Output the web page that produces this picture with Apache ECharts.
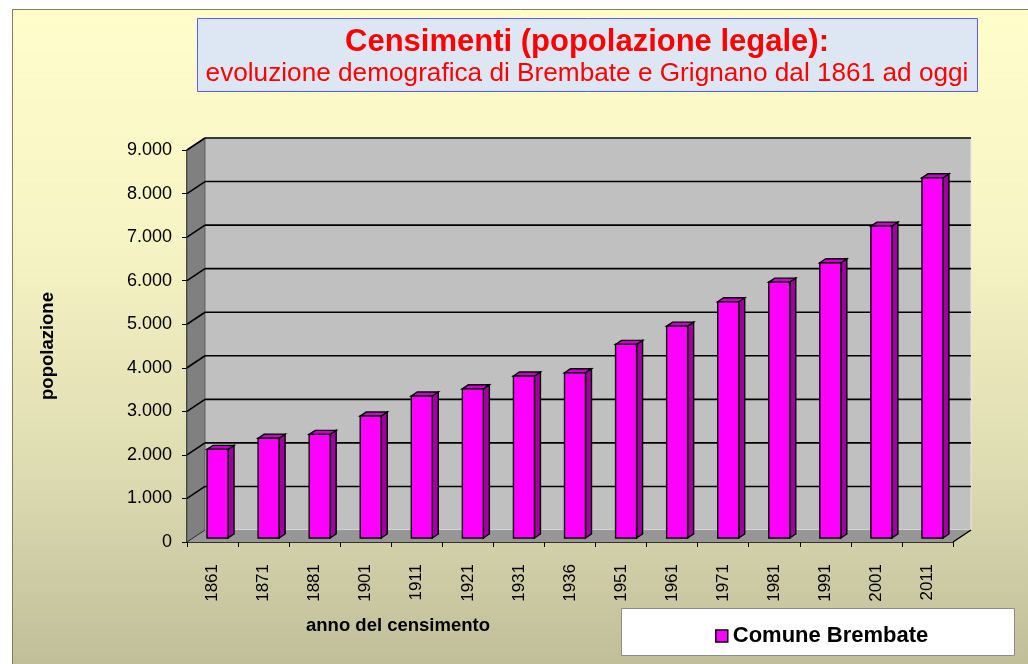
<!DOCTYPE html>
<html>
<head>
<meta charset="utf-8">
<script src="https://cdn.jsdelivr.net/npm/echarts@6/dist/echarts.min.js"></script>
<style>
html,body{margin:0;padding:0;background:#fff;}
#chart{width:1028px;height:664px;}
</style>
</head>
<body>
<div id="chart"></div>
<script>
// ---- data ----
const years = ['1861','1871','1881','1901','1911','1921','1931','1936','1951','1961','1971','1981','1991','2001','2011'];
const population = [2035, 2290, 2380, 2800, 3260, 3425, 3720, 3795, 4445, 4865, 5425, 5875, 6320, 7160, 8270];
const yTicks = [0, 1000, 2000, 3000, 4000, 5000, 6000, 7000, 8000, 9000];
const yTickLabels = ['0','1.000','2.000','3.000','4.000','5.000','6.000','7.000','8.000','9.000'];
const seriesName = 'Comune Brembate';
const titleMain = 'Censimenti (popolazione legale):';
const titleSub = 'evoluzione demografica di Brembate e Grignano dal 1861 ad oggi';
const xAxisTitle = 'anno del censimento';
const yAxisTitle = 'popolazione';

// ---- styling constants ----
const FONT = "'Liberation Sans', Arial, sans-serif";
const DX = 18, DY = -12;           // wall depth
const BOX = 5, BOY = -4;           // bar front offset (depth position)
const BDX = 6, BDY = -4;           // bar depth
const BAR_W = 21;

const chart = echarts.init(document.getElementById('chart'));

function wallsRender(params, api) {
  const cs = params.coordSys;
  const x = cs.x, y = cs.y, w = cs.width, h = cs.height;
  const children = [];
  children.push({type:'rect', shape:{x:x+DX, y:y+DY, width:w, height:h},
    style:{fill:'#c0c0c0', stroke:'#e8e8e8', lineWidth:1}});
  children.push({type:'polygon', shape:{points:[[x,y],[x+DX,y+DY],[x+DX,y+h+DY],[x,y+h]]},
    style:{fill:'#808080', stroke:'#555', lineWidth:1}});
  children.push({type:'polygon', shape:{points:[[x,y+h],[x+DX,y+h+DY],[x+w+DX,y+h+DY],[x+w,y+h]]},
    style:{fill:'#969696', stroke:null}});
  children.push({type:'line', shape:{x1:x+w, y1:y+h, x2:x+w+DX, y2:y+h+DY},
    style:{stroke:'#000', lineWidth:1.5}});
  children.push({type:'line', shape:{x1:x, y1:y+h, x2:x+DX, y2:y+h+DY},
    style:{stroke:'#333', lineWidth:1}});
  for (let i = 1; i < yTicks.length; i++) {
    const yy = api.coord([0, yTicks[i]])[1];
    children.push({type:'line', shape:{x1:x+DX, y1:yy+DY, x2:x+w+DX, y2:yy+DY},
      style:{stroke:'#000', lineWidth:1.6}});
    children.push({type:'line', shape:{x1:x, y1:yy, x2:x+DX, y2:yy+DY},
      style:{stroke:'#000', lineWidth:1.6}});
  }
  return {type:'group', children};
}

function barRender(params, api) {
  const idx = api.value(0);
  const p0 = api.coord([idx, 0]);
  const p1 = api.coord([idx, api.value(1)]);
  const xl = p0[0] + BOX - BAR_W / 2, xr = xl + BAR_W;
  const yb = p0[1] + BOY, yt = p1[1] + BOY;
  const lw = 1.4;
  return {type:'group', children:[
    {type:'polygon', shape:{points:[[xr,yt],[xr+BDX,yt+BDY],[xr+BDX,yb+BDY],[xr,yb]]},
      style:{fill:'#a000a0', stroke:'#000', lineWidth:lw}},
    {type:'polygon', shape:{points:[[xl,yt],[xr,yt],[xr+BDX,yt+BDY],[xl+BDX,yt+BDY]]},
      style:{fill:'#cc00cc', stroke:'#000', lineWidth:lw}},
    {type:'rect', shape:{x:xl, y:yt, width:BAR_W, height:yb-yt},
      style:{fill:'#ff00ff', stroke:'#000', lineWidth:lw}}
  ]};
}

const option = {
  animation: false,
  backgroundColor: '#ffffff',
  grid: {left:187, right:75, top:150, bottom:122, containLabel:false},
  xAxis: {
    type:'category', data: years,
    axisLine:{show:true, lineStyle:{color:'#000', width:1.5}},
    axisTick:{show:true, length:5, lineStyle:{color:'#000', width:1}},
    axisLabel:{rotate:90, margin:22, color:'#000', fontSize:17, fontFamily:FONT},
    splitLine:{show:false}
  },
  yAxis: {
    type:'value', min:0, max:9000, interval:1000,
    name: yAxisTitle, nameLocation:'middle', nameGap:130, nameRotate:90,
    nameTextStyle:{color:'#000', fontSize:18.5, fontWeight:'bold', fontFamily:FONT},
    axisLine:{show:true, lineStyle:{color:'#000', width:1.5}},
    axisTick:{show:true, length:5, lineStyle:{color:'#000', width:1}},
    axisLabel:{margin:15, color:'#000', fontSize:18, fontFamily:FONT,
      formatter: v => { const k = yTicks.indexOf(v); return k >= 0 ? yTickLabels[k] : ''; }},
    splitLine:{show:false}
  },
  legend: {
    data:[seriesName], left:710, top:620, itemWidth:12, itemHeight:12, itemGap:5,
    icon:'rect',
    itemStyle:{color:'#ff00ff', borderColor:'#000', borderWidth:1.5},
    textStyle:{color:'#000', fontSize:22, fontWeight:'bold', fontFamily:FONT}
  },
  graphic: [
    {type:'rect', z:-100, silent:true, shape:{x:12.5, y:9.5, width:1030, height:670},
      style:{fill:new echarts.graphic.LinearGradient(0,0,0,1,[
        {offset:0, color:'#fffdca'},{offset:0.35, color:'#f6f4c4'},{offset:0.7, color:'#dcdab0'},{offset:1, color:'#bdbc97'}]),
        stroke:'#7f7f60', lineWidth:1}},
    {type:'rect', z:-90, silent:true, shape:{x:197.5, y:18.5, width:780, height:73},
      style:{fill:'#dde7f3', stroke:'#5b5bff', lineWidth:1}},
    {type:'text', z:10, silent:true, style:{text:titleMain, x:587, y:42, align:'center', verticalAlign:'middle',
      fill:'#ff0000', font:'bold 31px ' + FONT}},
    {type:'text', z:10, silent:true, style:{text:titleSub, x:587, y:74, align:'center', verticalAlign:'middle',
      fill:'#ff0000', font:'26.2px ' + FONT}},
    {type:'text', z:10, silent:true, style:{text:xAxisTitle, x:398, y:626, align:'center', verticalAlign:'middle',
      fill:'#000', font:'bold 18.5px ' + FONT}},
    {type:'rect', z:-80, silent:true, shape:{x:621.5, y:608.5, width:393, height:47},
      style:{fill:'#ffffff', stroke:'#8c8c8c', lineWidth:1}}
  ],
  series: [
    {type:'custom', name:'walls', silent:true, z:1, data:[[0,0]], renderItem: wallsRender, tooltip:{show:false}},
    {type:'custom', name:seriesName, z:5, data: population.map((v,i)=>[i,v]), renderItem: barRender,
      itemStyle:{color:'#ff00ff', borderColor:'#000', borderWidth:1.5},
      encode:{x:0, y:1}}
  ]
};
chart.setOption(option);
</script>
</body>
</html>
